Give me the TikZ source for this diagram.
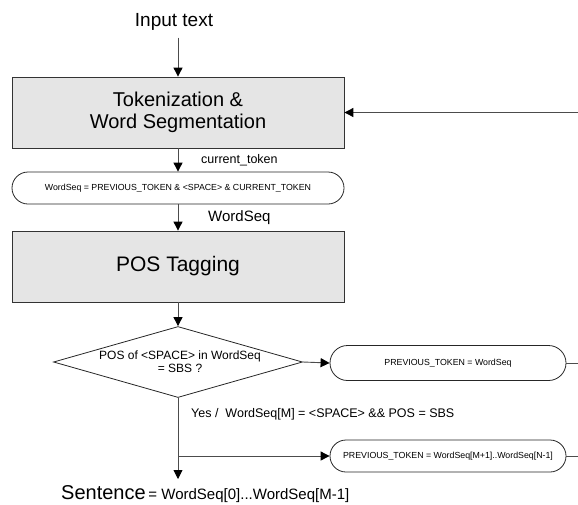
\documentclass[tikz,border=0pt]{standalone}
\usepackage{fontspec}
\setmainfont{Liberation Sans}
\usetikzlibrary{arrows.meta,shapes.geometric,shapes.misc}

\begin{document}
\begin{tikzpicture}[x=1pt,y=-1pt,
  flow/.style={draw=black!70, line width=0.9pt,
    -{Triangle[length=9pt,width=9pt,color=black]}},
  plainline/.style={draw=black!70, line width=0.9pt},
  procbox/.style={draw=black!80, fill=black!10, line width=0.8pt,
    minimum width=332pt, minimum height=71pt, inner sep=0pt, align=center,
    font=\fontsize{20}{22}\selectfont},
  termbox/.style={rounded rectangle, draw=black!85, line width=0.8pt,
    inner sep=0pt, font=\fontsize{8.8}{10}\selectfont},
  decision/.style={diamond, draw=black!85, line width=0.8pt, inner sep=0pt,
    minimum width=249pt, minimum height=71pt},
  note/.style={inner sep=0pt, anchor=west}]

  \useasboundingbox (0,0) rectangle (578,504);
  \clip (0,0) rectangle (578,504);

  % input
  \node[inner sep=0pt, font=\fontsize{19}{21}\selectfont] (input) at (174,22) {Input text};

  % processing steps
  \node[procbox] (tok) at (178,112.5) {Tokenization \&\\Word Segmentation};
  \node[termbox, minimum width=332pt, minimum height=32pt] (seq) at (178,188)
    {WordSeq = PREVIOUS\_TOKEN \& <SPACE> \& CURRENT\_TOKEN};
  \node[procbox, font=\fontsize{21}{23}\selectfont] (pos) at (178,266.5) {POS Tagging};

  % decision
  \node[decision] (dec) at (178,362) {};
  \node[align=center, inner sep=0pt, font=\fontsize{12}{13}\selectfont] (dectext) at (180,362)
    {POS of <SPACE> in WordSeq\\= SBS ?};

  % updates of the previous token
  \node[termbox, minimum width=236pt, minimum height=35pt] (p1) at (448,363)
    {PREVIOUS\_TOKEN = WordSeq};
  \node[termbox, minimum width=236pt, minimum height=32pt] (p2) at (448,456)
    {PREVIOUS\_TOKEN = WordSeq[M+1]..WordSeq[N-1]};

  % output
  \node[note] (sent) at (61,494)
    {{\fontsize{20}{22}\selectfont Sentence} {\fontsize{15}{17}\selectfont = WordSeq[0]...WordSeq[M-1]}};

  % edge labels
  \node[note, font=\fontsize{12.5}{14}\selectfont] (lcur) at (201,160) {current\_token};
  \node[note, font=\fontsize{15}{17}\selectfont] (lseq) at (208,218) {WordSeq};
  \node[note, font=\fontsize{12.5}{14}\selectfont] (lyes) at (191,414)
    {Yes /\ \ WordSeq[M] = <SPACE> \&\& POS = SBS};

  % helper coordinates
  \coordinate (loop) at (600,0);
  \coordinate (br) at (178,456);
  \coordinate (out) at (178,479);

  % connectors
  \draw[flow, shorten <=7pt] (input.south -| tok.north) -- (tok.north);
  \draw[flow] (tok.south) -- (seq.north);
  \draw[flow] (seq.south) -- (pos.north);
  \draw[flow] (pos.south) -- (dec.north);
  \draw[flow] (dec.east) -- (p1.west);
  \draw[flow] (dec.south) -- (out);
  \draw[flow] (br) -- (p2.west);
  \draw[plainline] (p1.east) -- (p1.east -| loop);
  \draw[flow] (p2.east) -- (p2.east -| loop) |- (tok.east);
\end{tikzpicture}
\end{document}
